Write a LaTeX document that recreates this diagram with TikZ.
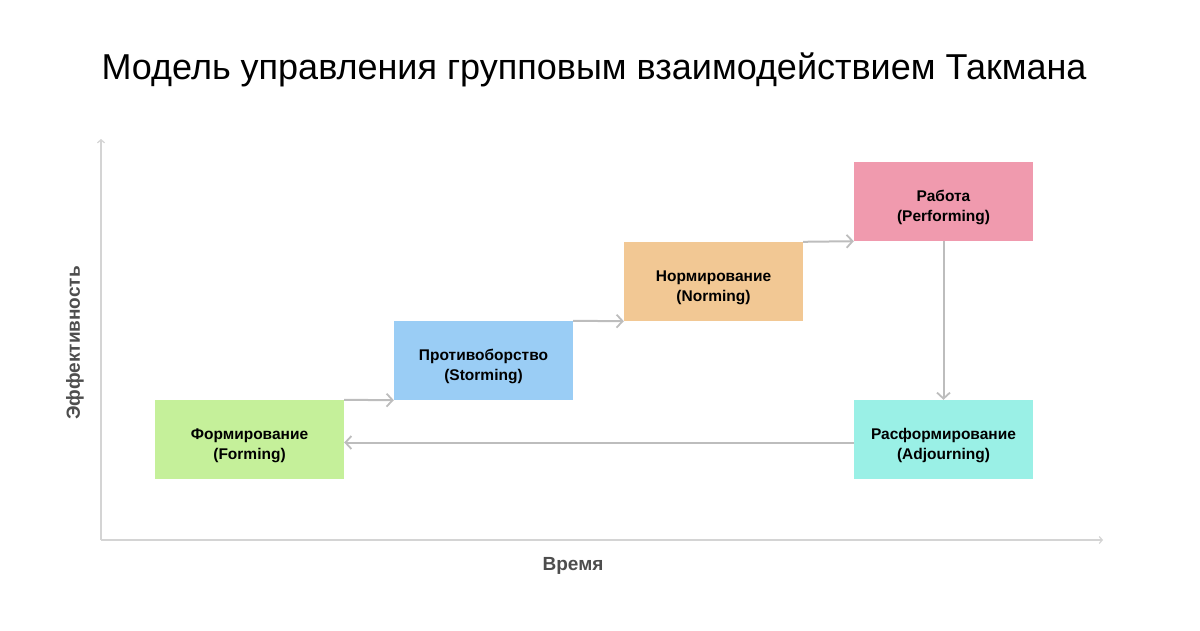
\documentclass[tikz,border=0pt]{standalone}
\usepackage{fontspec}
\setmainfont{Liberation Sans}
\usepackage{tikz}
\usetikzlibrary{arrows.meta,positioning}
\definecolor{axisgray}{HTML}{D4D4D4}
\definecolor{linkgray}{HTML}{BDBDBD}
\definecolor{labelgray}{HTML}{4D4D4D}
\definecolor{formgreen}{HTML}{C5F09A}
\definecolor{stormblue}{HTML}{9ACDF5}
\definecolor{normorange}{HTML}{F2C894}
\definecolor{perfpink}{HTML}{F09AAE}
\definecolor{adjcyan}{HTML}{9AF0E6}

\begin{document}
\begin{tikzpicture}[x=1pt,y=-1pt,
  stage/.style={minimum width=179pt,minimum height=79pt,inner sep=0pt,align=center,
    text height=44pt,text depth=4pt,
    font=\fontsize{15.5}{20}\selectfont\bfseries},
  link/.style={linkgray,line width=2pt,-{Straight Barb[length=6pt,width=13pt,line width=1.8pt]}},
  axis/.style={axisgray,line width=1.2pt,-{Straight Barb[length=3pt,width=7pt]}}]
  \useasboundingbox (0,0) rectangle (1200,630);
  \node[font=\fontsize{36}{40}\selectfont] (title) at (594,70) {Модель управления групповым взаимодействием Такмана};
  % axes
  \coordinate (origin) at (101,540);
  \coordinate (ytop) at (101,139);
  \coordinate (xend) at (1103,540);
  \draw[axis] (origin)--(ytop); \draw[axis] (origin)--(xend);
  \node[font=\fontsize{19}{20}\selectfont\bfseries,labelgray,rotate=90] (ylab) at (75,343) {Эффективность};
  \node[font=\fontsize{19}{20}\selectfont\bfseries,labelgray] (xlab) at (573,566) {Время};
  % stages
  \node[stage,fill=formgreen,minimum width=189pt] (form) at (249.5,439.5) {Формирование\\(Forming)};
  \node[stage,fill=stormblue] (storm) at (483.5,360.5) {Противоборство\\(Storming)};
  \node[stage,fill=normorange] (norm) at (713.5,281.5) {Нормирование\\(Norming)};
  \node[stage,fill=perfpink] (perf) at (943.5,201.5) {Работа\\(Performing)};
  \node[stage,fill=adjcyan] (adj) at (943.5,439.5) {Расформирование\\(Adjourning)};
  % transitions
  \draw[link] (form.north east)--(storm.south west);
  \draw[link] (storm.north east)--(norm.south west);
  \draw[link] (norm.north east)--(perf.south west);
  \draw[link] (perf.south)--(adj.north);
  \draw[link] ([yshift=-3pt]adj.west)--([yshift=-3pt]form.east);
\end{tikzpicture}
\end{document}
